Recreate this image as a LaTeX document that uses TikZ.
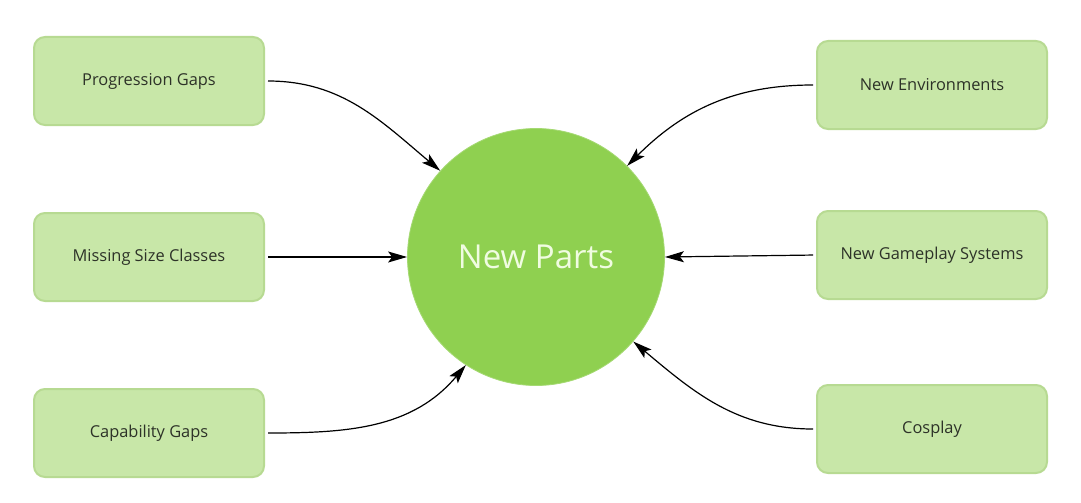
\documentclass[tikz,border=0pt]{standalone}
\usepackage{fontspec}
\setmainfont{Open Sans}
\usetikzlibrary{arrows.meta}
\definecolor{boxfill}{RGB}{200,231,168}
\definecolor{boxline}{RGB}{183,218,146}
\definecolor{circfill}{RGB}{143,208,80}
\definecolor{circtext}{RGB}{240,252,225}
\definecolor{txt}{RGB}{45,50,40}
\begin{document}
\begin{tikzpicture}[x=1pt,y=1pt,
  box/.style={draw=boxline, line width=2pt, fill=boxfill, rounded corners=11pt,
    minimum width=230pt, minimum height=88pt, inner sep=0pt,
    font=\fontsize{16.4}{19}\selectfont, text=txt},
  hub/.style={circle, fill=circfill, draw=circfill!80!white, line width=0.8pt,
    minimum size=257pt, inner sep=0pt, font=\fontsize{33}{40}\selectfont, text=circtext},
  link/.style={-{Stealth[length=19pt,width=11pt,inset=4pt]}, line width=1.2pt, black}]
\useasboundingbox (0,0) rectangle (1081,-503);
\node[hub] (np) at (536,-257) {New Parts};
\node[box] (pg) at (149,-81) {Progression Gaps};
\node[box] (ms) at (149,-257) {Missing Size Classes};
\node[box] (cg) at (149,-433) {Capability Gaps};
\node[box] (ne) at (932,-85) {New Environments};
\node[box] (gs) at (932,-255) {New Gameplay Systems};
\node[box] (co) at (932,-429) {Cosplay};
\draw[link, shorten <=3pt] (pg.east) to[out=0,in=140] (np.138);
\draw[link, shorten <=3pt] (ms.east) -- (np.west);
\draw[link, shorten <=3pt] (cg.east) to[out=0,in=-130] (np.-123);
\draw[link, shorten <=3pt] (ne.west) to[out=180,in=45] (np.45);
\draw[link, shorten <=3pt] (gs.west) -- (np.east);
\draw[link, shorten <=3pt] (co.west) to[out=180,in=-40] (np.-41);
\end{tikzpicture}
\end{document}
